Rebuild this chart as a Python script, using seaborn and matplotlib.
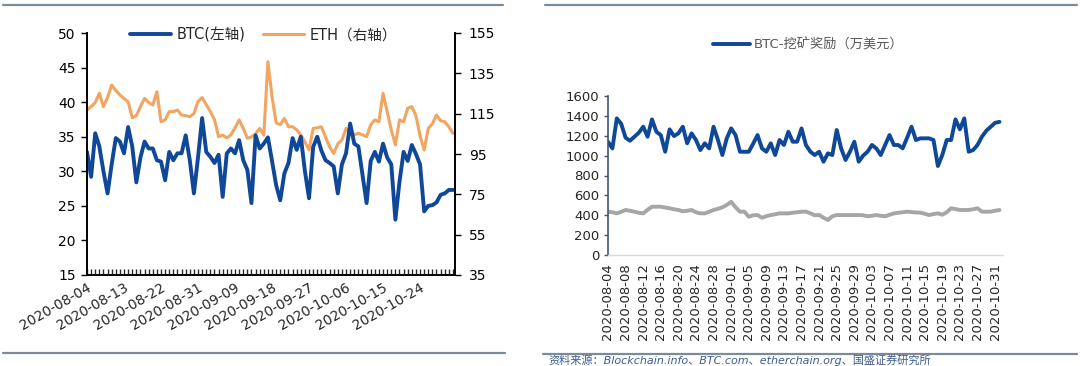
import pandas as pd
import matplotlib
matplotlib.use("Agg")
import matplotlib.pyplot as plt
import matplotlib.dates as mdates
import seaborn as sns

sns.set_theme(style="ticks")
plt.rcParams["font.family"] = ["DejaVu Sans", "Noto Sans CJK SC"]

# left chart, daily from 2020-08-04
btc_left = [32.8, 29.2, 35.5, 33.6, 30.0, 26.8, 31.0, 34.8, 34.3, 32.6,
            36.4, 33.6, 28.4, 32.0, 34.3, 33.3, 33.3, 31.6, 31.4, 28.7,
            32.8, 31.6, 32.6, 32.6, 35.2, 31.6, 26.8, 32.0, 37.7, 32.8,
            32.1, 31.2, 32.4, 26.3, 32.6, 33.3, 32.6, 34.5, 31.6, 30.2,
            25.4, 35.2, 33.3, 34.0, 34.9, 31.5, 28.0, 25.8, 29.7, 31.2,
            34.8, 33.1, 35.0, 30.0, 26.1, 33.5, 35.0, 33.0, 31.6, 31.2,
            30.7, 26.8, 31.0, 32.6, 36.9, 34.0, 33.6, 29.5, 25.4, 31.5,
            32.8, 31.4, 34.0, 32.0, 31.0, 23.0, 28.5, 32.8, 31.5, 33.8,
            32.5, 31.0, 24.2, 25.0, 25.1, 25.5, 26.6, 26.8, 27.3, 27.3]
eth_left = [116.8, 118.5, 120.5, 125.1, 118.5, 123.0, 129.2, 126.5, 124.3, 122.5,
            120.9, 113.0, 114.0, 118.5, 122.6, 120.5, 119.3, 125.9, 111.0, 111.9,
            116.0, 116.0, 116.8, 114.3, 114.0, 113.5, 115.0, 121.0, 123.0, 119.5,
            116.0, 112.0, 103.6, 104.4, 103.0, 104.5, 108.0, 111.9, 107.7, 102.8,
            103.5, 105.0, 107.7, 104.4, 140.8, 123.4, 110.5, 109.5, 112.7, 108.5,
            108.5, 107.0, 104.4, 101.0, 97.0, 107.7, 108.0, 108.5, 103.5, 98.5,
            95.3, 100.0, 101.9, 107.7, 105.0, 104.5, 105.3, 104.5, 103.6, 109.5,
            111.9, 111.0, 125.1, 116.0, 107.0, 99.5, 111.9, 111.0, 117.7, 118.5,
            114.0, 104.0, 97.0, 107.7, 110.0, 114.3, 111.5, 111.0, 108.5, 105.3]
left_ticks = ["2020-08-04", "2020-08-13", "2020-08-22", "2020-08-31", "2020-09-09",
              "2020-09-18", "2020-09-27", "2020-10-06", "2020-10-15", "2020-10-24"]

# right chart, daily from 2020-08-04 (万美元)
btc_reward = [1140, 1073, 1375, 1320, 1180, 1150, 1190, 1230, 1291, 1190,
              1365, 1240, 1207, 1039, 1264, 1197, 1224, 1291, 1124, 1224,
              1157, 1056, 1124, 1073, 1291, 1157, 1006, 1174, 1274, 1207,
              1039, 1039, 1039, 1120, 1207, 1073, 1039, 1124, 1006, 1157,
              1107, 1240, 1140, 1140, 1274, 1107, 1040, 1006, 1039, 939,
              1023, 1006, 1258, 1073, 956, 1039, 1140, 939, 1000, 1039,
              1107, 1073, 1006, 1107, 1207, 1107, 1107, 1073, 1180, 1291,
              1157, 1174, 1174, 1174, 1157, 895, 1006, 1157, 1157, 1365,
              1264, 1375, 1039, 1056, 1107, 1190, 1250, 1290, 1330, 1340]
eth_reward = [436, 430, 419, 435, 453, 445, 436, 425, 419, 455,
              486, 486, 486, 478, 470, 460, 453, 440, 445, 453,
              430, 419, 419, 435, 453, 465, 480, 503, 536, 480,
              436, 436, 385, 400, 402, 375, 390, 402, 410, 419,
              419, 419, 425, 430, 436, 436, 420, 400, 402, 375,
              352, 390, 402, 402, 402, 402, 402, 402, 400, 390,
              395, 402, 395, 390, 405, 419, 425, 430, 436, 432,
              428, 426, 415, 402, 412, 419, 405, 430, 470, 462,
              453, 453, 453, 460, 470, 436, 436, 436, 445, 453]
right_ticks = ["2020-08-04", "2020-08-08", "2020-08-12", "2020-08-16", "2020-08-20",
               "2020-08-24", "2020-08-28", "2020-09-01", "2020-09-05", "2020-09-09",
               "2020-09-13", "2020-09-17", "2020-09-21", "2020-09-25", "2020-09-29",
               "2020-10-03", "2020-10-07", "2020-10-11", "2020-10-15", "2020-10-19",
               "2020-10-23", "2020-10-27", "2020-10-31"]

blue = "#0F4898"
orange = "#F2A461"
grey = "#A6A6A6"
rule = "#7D8A97"
start = pd.Timestamp("2020-08-04")

left_df = pd.DataFrame({
    "date": pd.date_range(start, periods=len(btc_left), freq="D"),
    "BTC": btc_left,
    "ETH": eth_left,
})
right_df = pd.DataFrame({
    "date": pd.date_range(start, periods=len(btc_reward), freq="D"),
    "BTC": btc_reward,
    "ETH": eth_reward,
})

fig = plt.figure(figsize=(10.8, 3.66), dpi=100)

# ---- left chart ----
ax = fig.add_axes([87 / 1080, 91 / 366, 368 / 1080, 242 / 366])
ax2 = ax.twinx()
sns.lineplot(data=left_df, x="date", y="ETH", color=orange, linewidth=2.2, ax=ax2, legend=False)
sns.lineplot(data=left_df, x="date", y="BTC", color=blue, linewidth=2.8, ax=ax, legend=False)
ax.set_zorder(ax2.get_zorder() + 1)
ax.patch.set_visible(False)

ax.set_ylim(15, 50)
ax.set_yticks(range(15, 51, 5))
ax2.set_ylim(35, 155)
ax2.set_yticks(range(35, 156, 20))
ax.set_xlim(start, start + pd.Timedelta(days=89.5))
ax.set_xticks(pd.to_datetime(left_ticks))
ax.xaxis.set_major_formatter(mdates.DateFormatter("%Y-%m-%d"))
ax.xaxis.set_minor_locator(mdates.DayLocator())
for lab in ax.get_xticklabels():
    lab.set_rotation(30)
    lab.set_ha("right")
    lab.set_rotation_mode("anchor")
ax.set(xlabel="", ylabel="")
ax2.set(xlabel="", ylabel="")

for a in (ax, ax2):
    a.spines["top"].set_visible(False)
    for s in ("left", "right", "bottom"):
        a.spines[s].set_color("black")
        a.spines[s].set_linewidth(1.2)
    a.grid(False)
ax.tick_params(axis="y", direction="out", length=4, width=1, labelsize=10, pad=4, colors="black")
ax2.tick_params(axis="y", direction="out", length=4, width=1, labelsize=10, pad=6, colors="black")
ax.tick_params(axis="x", which="major", direction="in", length=4, width=1, labelsize=10, pad=4)
ax.tick_params(axis="x", which="minor", direction="in", length=4, width=1)

fig.legend([ax.get_lines()[0], ax2.get_lines()[0]], ["BTC(左轴)", "ETH（右轴）"],
           loc="center", bbox_to_anchor=(264 / 1080, 1 - 35 / 366), ncol=2, frameon=False,
           fontsize=10.5, handlelength=2.8, columnspacing=1.2, handletextpad=0.4)

# ---- right chart ----
ax3 = fig.add_axes([608 / 1080, 111 / 366, 395 / 1080, 159 / 366])
sns.lineplot(data=right_df, x="date", y="ETH", color=grey, linewidth=2.8, ax=ax3, legend=False)
sns.lineplot(data=right_df, x="date", y="BTC", color=blue, linewidth=2.8, ax=ax3, legend=False)
ax3.set_ylim(0, 1600)
ax3.set_yticks(range(0, 1601, 200))
ax3.set_xlim(start, start + pd.Timedelta(days=89.8))
ax3.set_xticks(pd.to_datetime(right_ticks))
ax3.xaxis.set_major_formatter(mdates.DateFormatter("%Y-%m-%d"))
for lab in ax3.get_xticklabels():
    lab.set_rotation(90)
ax3.set(xlabel="", ylabel="")
ax3.grid(False)
for s in ("top", "right"):
    ax3.spines[s].set_visible(False)
ax3.spines["left"].set_color("#3B5675")
ax3.spines["left"].set_linewidth(1.2)
ax3.spines["bottom"].set_color("#D9D9D9")
ax3.spines["bottom"].set_linewidth(1.0)
ax3.tick_params(axis="y", direction="out", length=3, width=1, color="#3B5675",
                labelsize=9.5, labelcolor="#262626", pad=3)
ax3.tick_params(axis="x", length=0, labelsize=9.5, labelcolor="#262626", pad=6)
fig.legend([ax3.get_lines()[1]], ["BTC-挖矿奖励（万美元）"], loc="center",
           bbox_to_anchor=(808 / 1080, 1 - 45 / 366), frameon=False, fontsize=9.5,
           handlelength=2.8, handletextpad=0.3, labelcolor="#595959")

# ---- frame rules and source ----
fig.add_artist(plt.Line2D([3 / 1080, 503 / 1080], [1 - 5 / 366] * 2, color=rule, lw=1.6))
fig.add_artist(plt.Line2D([545 / 1080, 1077 / 1080], [1 - 5 / 366] * 2, color=rule, lw=1.6))
fig.add_artist(plt.Line2D([3 / 1080, 505 / 1080], [1 - 353 / 366] * 2, color=rule, lw=1.6))
fig.add_artist(plt.Line2D([543 / 1080, 1077 / 1080], [1 - 354 / 366] * 2, color=rule, lw=1.6))
fig.text(548 / 1080, 1 - 360.5 / 366, "资料来源：Blockchain.info、BTC.com、etherchain.org、国盛证券研究所",
         ha="left", va="center", fontsize=8, style="italic", color="#3D5C93")

fig.savefig("out.png", dpi=100)
